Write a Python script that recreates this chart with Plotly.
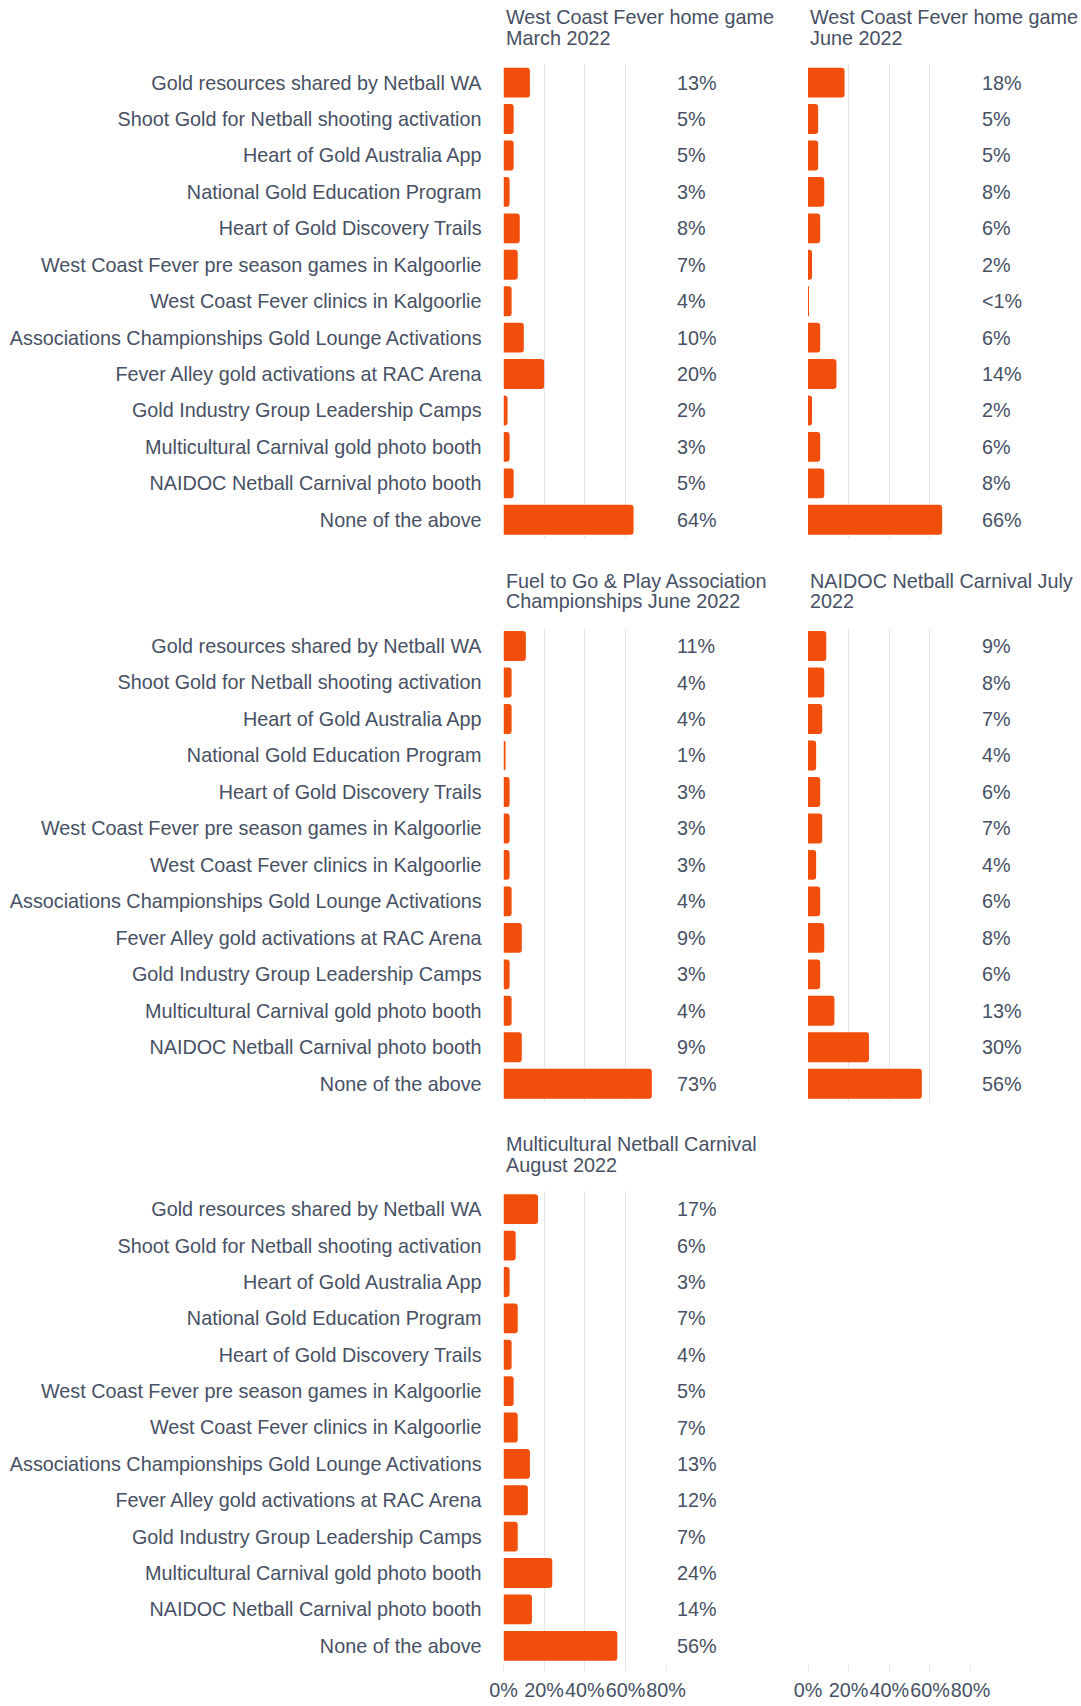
import plotly.graph_objects as go
from plotly.subplots import make_subplots

categories = [
    "Gold resources shared by Netball WA",
    "Shoot Gold for Netball shooting activation",
    "Heart of Gold Australia App",
    "National Gold Education Program",
    "Heart of Gold Discovery Trails",
    "West Coast Fever pre season games in Kalgoorlie",
    "West Coast Fever clinics in Kalgoorlie",
    "Associations Championships Gold Lounge Activations",
    "Fever Alley gold activations at RAC Arena",
    "Gold Industry Group Leadership Camps",
    "Multicultural Carnival gold photo booth",
    "NAIDOC Netball Carnival photo booth",
    "None of the above",
]

title_lines = [
    ["West Coast Fever home game", "March 2022"],
    ["West Coast Fever home game", "June 2022"],
    ["Fuel to Go & Play Association", "Championships June 2022"],
    ["NAIDOC Netball Carnival July", "2022"],
    ["Multicultural Netball Carnival", "August 2022"],
]

march_2022 = [13, 5, 5, 3, 8, 7, 4, 10, 20, 2, 3, 5, 64]
june_2022 = [18, 5, 5, 8, 6, 2, 0.4, 6, 14, 2, 6, 8, 66]
fuel_june_2022 = [11, 4, 4, 1, 3, 3, 3, 4, 9, 3, 4, 9, 73]
naidoc_july_2022 = [9, 8, 7, 4, 6, 7, 4, 6, 8, 6, 13, 30, 56]
multicultural_aug_2022 = [17, 6, 3, 7, 4, 5, 7, 13, 12, 7, 24, 14, 56]

series = [march_2022, june_2022, fuel_june_2022, naidoc_july_2022, multicultural_aug_2022]

tick_vals = [0, 0.2, 0.4, 0.6, 0.8]
tick_text = ["0%", "20%", "40%", "60%", "80%"]

W, H = 1081, 1706
BAR = "#F24E0B"
TXT = "#475064"
GRID = "#E4E6EA"
FONT = "Liberation Sans, Arial, Helvetica, sans-serif"
FS = 19.8

fig = make_subplots(rows=3, cols=2)

col_px = [(503.5, 666.5), (808.0, 971.0)]
row_px = [(64.4, 538.0), (627.8, 1102.0), (1191.0, 1664.0)]

def lab(v):
    return "<1%" if v < 1 else f"{round(v)}%"

for i in range(6):
    r, c = i // 2, i % 2
    n = i + 1
    xs = "" if n == 1 else str(n)
    x0, x1 = col_px[c]
    t0, t1 = row_px[r]
    fig.layout[f"xaxis{xs}"].update(
        domain=[x0 / W, x1 / W], range=[0, 0.802],
        tickvals=tick_vals, ticktext=tick_text, tickangle=0,
        showgrid=(i < 5), gridcolor=GRID, gridwidth=1.3, zeroline=False,
        showline=False,
        showticklabels=(r == 2),
        ticks="outside" if r == 2 else "", ticklen=7, tickcolor=GRID,
        ticklabelstandoff=1,
        tickfont=dict(family=FONT, size=FS, color=TXT),
        automargin=False,
        fixedrange=True,
    )
    fig.layout[f"yaxis{xs}"].update(
        domain=[1 - t1 / H, 1 - t0 / H],
        type="category", categoryorder="array", categoryarray=categories,
        autorange="reversed",
        showgrid=False, zeroline=False, showline=False,
        showticklabels=(c == 0 and i < 5),
        ticks="outside", ticklen=17, tickcolor="rgba(0,0,0,0)",
        tickfont=dict(family=FONT, size=FS, color=TXT),
        automargin=False,
        fixedrange=True,
    )
    if i < 5:
        vals = series[i]
        fig.add_trace(go.Bar(
            x=[v / 100 for v in vals], y=categories, orientation="h",
            marker=dict(color=BAR, line=dict(width=0), cornerradius=3),
            showlegend=False, hoverinfo="skip",
        ), row=r + 1, col=c + 1)
        for cat, v in zip(categories, vals):
            fig.add_annotation(
                x=0.8, y=cat, xref=f"x{xs}", yref=f"y{xs}",
                text=lab(v), showarrow=False, xanchor="left", xshift=9,
                font=dict(family=FONT, size=FS, color=TXT),
            )
        for k, (line, shift) in enumerate(zip(title_lines[i], [47, 26.4])):
            fig.add_annotation(
                x=0, y=1, xref=f"x{xs} domain", yref=f"y{xs} domain",
                text=line, showarrow=False, xanchor="left", yanchor="middle",
                yshift=shift,
                font=dict(family=FONT, size=FS, color=TXT),
            )
    else:
        # empty sixth cell: keeps its axis so the bottom tick labels are drawn
        fig.add_trace(go.Bar(
            x=[None] * len(categories), y=categories, orientation="h",
            marker=dict(color=BAR), showlegend=False, hoverinfo="skip",
        ), row=r + 1, col=c + 1)

fig.layout["yaxis6"].update(showticklabels=False, ticks="")

fig.update_layout(
    width=W, height=H,
    margin=dict(l=0, r=0, t=0, b=0),
    paper_bgcolor="white", plot_bgcolor="white",
    bargap=0.18,
    font=dict(family=FONT, size=FS, color=TXT),
)

fig.write_html(
    "out.html",
    config={"displayModeBar": False, "staticPlot": False},
    post_script="document.body.style.margin='0';document.body.style.padding='0';document.body.style.overflow='hidden';",
)
